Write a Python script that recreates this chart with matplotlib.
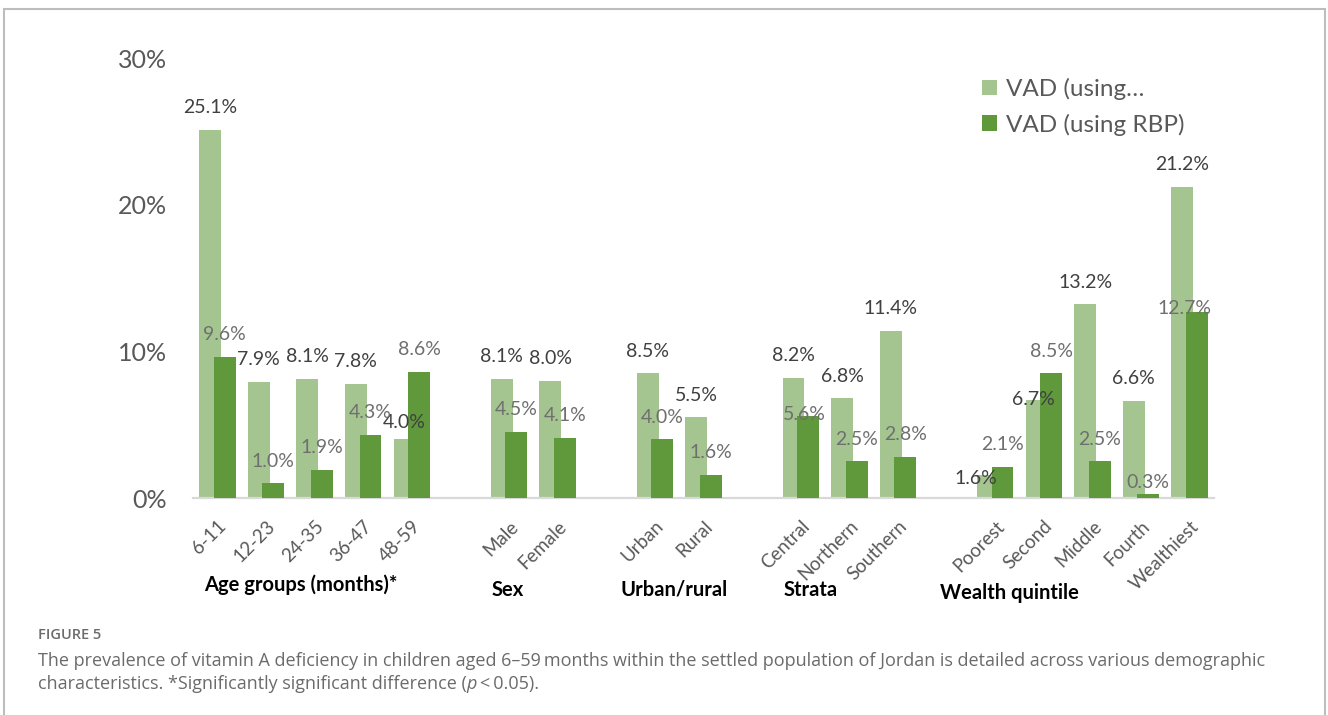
import matplotlib.pyplot as plt
import matplotlib.patches as mpatches
import numpy as np

# VAD prevalence (%) by demographic characteristic
age_groups = ["6-11", "12-23", "24-35", "36-47", "48-59"]
sex = ["Male", "Female"]
residence = ["Urban", "Rural"]
strata = ["Central", "Northern", "Southern"]
wealth = ["Poorest", "Second", "Middle", "Fourth", "Wealthiest"]

vad_other = [25.1, 7.9, 8.1, 7.8, 4.0, 8.1, 8.0, 8.5, 5.5, 8.2, 6.8, 11.4,
             1.6, 6.7, 13.2, 6.6, 21.2]
vad_rbp = [9.6, 1.0, 1.9, 4.3, 8.6, 4.5, 4.1, 4.0, 1.6, 5.6, 2.5, 2.8,
           2.1, 8.5, 2.5, 0.3, 12.7]

group_titles = ["Age groups (months)*", "Sex", "Urban/rural", "Strata",
                "Wealth quintile"]
groups = [age_groups, sex, residence, strata, wealth]

# one empty slot between groups
xpos = []
labels = []
slot = 0
for g in groups:
    for name in g:
        xpos.append(slot)
        labels.append(name)
        slot += 1
    slot += 1
xpos = np.array(xpos)

light = "#a4c590"
dark = "#5f993c"
axis_grey = "#595959"

fig = plt.figure(figsize=(13.28, 7.15), dpi=100)
W, H = 1328, 715
ax = fig.add_axes([193 / W, 217 / H, 1021 / W, 440 / H])

plt.rcParams['font.family'] = ['Lato', 'DejaVu Sans']

w = 0.45
off = 0.15
ax.bar(xpos - off, vad_other, w, color=light, label="VAD (using\u2026", zorder=2)
ax.bar(xpos + off, vad_rbp, w, color=dark, label="VAD (using RBP)", zorder=3)

# hand-nudged labels (points) where the default spot collides
nudge_other = {4: (0, -4), 12: (-9, -19), 13: (-2, -16)}
nudge_rbp = {9: (-3, -15), 15: (0, -8), 16: (-9, -14)}

for i, (x, v) in enumerate(zip(xpos, vad_other)):
    dx, dy = nudge_other.get(i, (0, 0))
    ax.annotate(f"{v:.1f}%", (x - off, v), xytext=(dx, 16 + dy),
                textcoords="offset points", ha="center", va="center",
                fontsize=14, color="#404040", family="Lato", zorder=5)
for i, (x, v) in enumerate(zip(xpos, vad_rbp)):
    dx, dy = nudge_rbp.get(i, (0, 0))
    ax.annotate(f"{v:.1f}%", (x + off, v), xytext=(dx, 16 + dy),
                textcoords="offset points", ha="center", va="center",
                fontsize=14, color="#6f6f6f", family="Lato", zorder=5)

ax.set_xlim(-0.5, slot - 1.5)
ax.set_ylim(0, 30)
ax.set_yticks([0, 10, 20, 30])
ax.set_yticklabels(["0%", "10%", "20%", "30%"], fontsize=18, color=axis_grey,
                   family="Lato")
ax.tick_params(axis="y", length=0, pad=19)
ax.set_xticks(xpos)
ax.set_xticklabels(labels, rotation=45, ha="right", rotation_mode="anchor",
                   fontsize=13.5, color=axis_grey, family="Lato")
ax.tick_params(axis="x", length=0, pad=14)

for s in ["top", "right", "left"]:
    ax.spines[s].set_visible(False)
ax.spines["bottom"].set_color("#d9d9d9")
ax.spines["bottom"].set_linewidth(1.6)

# group titles under the tick labels
title_x = [1.72, 5.98, 9.39, 12.21, 16.30]
title_y = [-0.198, -0.209, -0.209, -0.209, -0.216]
for t, tx, ty in zip(group_titles, title_x, title_y):
    ax.text(tx, ty, t, transform=ax.get_xaxis_transform(), ha="center",
            va="center", fontsize=14.5, fontweight="bold", color="black",
            family="Lato")

leg = ax.legend(loc="upper left", bbox_to_anchor=((982 - 193) / 1021, (498 - 78) / 440),
                frameon=False, handlelength=0.62, handleheight=0.62,
                handletextpad=0.35, labelspacing=0.55, borderaxespad=0,
                borderpad=0, prop={"family": "Lato", "size": 17.5})
for t in leg.get_texts():
    t.set_color(axis_grey)

# outer frame
fig.patches.append(mpatches.Rectangle((4 / W, -0.05), 1321 / W, 1.05 - 9 / H,
                                      transform=fig.transFigure, fill=False,
                                      edgecolor="#bdbdbd", linewidth=1.5))

cap = "#6b6b6b"
cap_size = 13
fig.text(38 / W, 1 - 635 / H, "FIGURE 5", fontsize=10.5, fontweight="semibold",
         color=cap, family="Open Sans", va="center")
fig.text(38 / W, 1 - 661 / H,
         "The prevalence of vitamin A deficiency in children aged 6\u201359\u2009months "
         "within the settled population of Jordan is detailed across various demographic",
         fontsize=cap_size, color=cap, family="Open Sans", va="center")
renderer = fig.canvas.get_renderer()
t1 = fig.text(38 / W, 1 - 684 / H,
              "characteristics. *Significantly significant difference (",
              fontsize=cap_size, color=cap, family="Open Sans", va="center")
bb = t1.get_window_extent(renderer).transformed(fig.transFigure.inverted())
t2 = fig.text(bb.x1, 1 - 684 / H, "p", fontsize=cap_size, color=cap,
              family="Open Sans", style="italic", va="center")
bb = t2.get_window_extent(renderer).transformed(fig.transFigure.inverted())
fig.text(bb.x1, 1 - 684 / H, "\u2009<\u20090.05).", fontsize=cap_size, color=cap,
         family=["Open Sans", "DejaVu Sans"], va="center")

fig.savefig("out.png", dpi=100)
